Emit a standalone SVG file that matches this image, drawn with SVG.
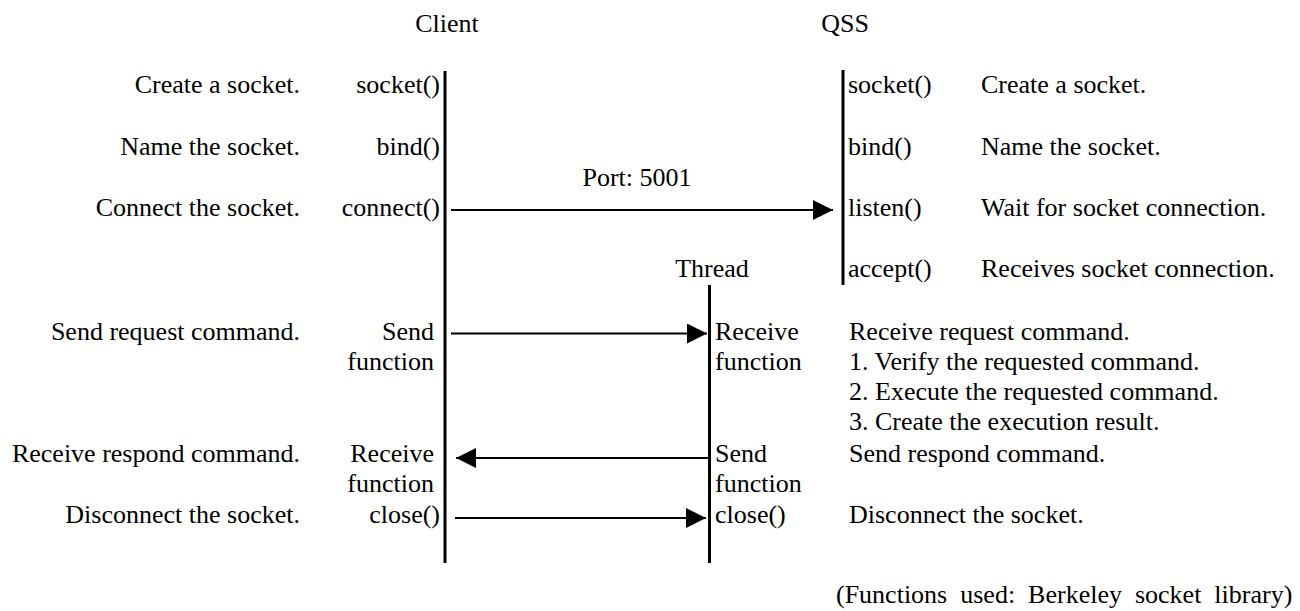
<svg xmlns="http://www.w3.org/2000/svg" width="1300" height="611" viewBox="0 0 1300 611">
<style>
text { font-family: Liberation Serif, Tinos, Times New Roman, Times, DejaVu Serif, serif; font-size: 26px; fill: #000; }
.s { text-anchor: start; }
.e { text-anchor: end; }
.m { text-anchor: middle; }
.life { stroke: #000; stroke-width: 3; fill: none; }
.msg { stroke: #000; stroke-width: 2; fill: none; marker-end: url(#ah); }
</style>
<defs>
<marker id="ah" markerUnits="userSpaceOnUse" markerWidth="20" markerHeight="20" refX="20" refY="10" orient="auto">
<path d="M0,0 L20,10 L0,20 z" fill="#000"/>
</marker>
</defs>
<rect width="1300" height="611" fill="#fff"/>

<g id="client">
<text class="m" x="447" y="32">Client</text>
<line class="life" x1="445" y1="71" x2="445" y2="563"/>
<text class="e" x="440" y="93">socket()</text>
<text class="e" x="440" y="155">bind()</text>
<text class="e" x="440" y="216">connect()</text>
<text class="e" x="434" y="340">Send</text>
<text class="e" x="434" y="370">function</text>
<text class="e" x="434" y="462">Receive</text>
<text class="e" x="434" y="492">function</text>
<text class="e" x="440" y="523">close()</text>
</g>

<g id="client-notes">
<text class="e" x="300" y="93">Create a socket.</text>
<text class="e" x="300" y="155">Name the socket.</text>
<text class="e" x="300" y="216">Connect the socket.</text>
<text class="e" x="300" y="340">Send request command.</text>
<text class="e" x="300" y="462">Receive respond command.</text>
<text class="e" x="300" y="523">Disconnect the socket.</text>
</g>

<g id="qss">
<text class="m" x="845" y="32">QSS</text>
<line class="life" x1="843" y1="70" x2="843" y2="285"/>
<text class="s" x="848" y="93">socket()</text>
<text class="s" x="848" y="155">bind()</text>
<text class="s" x="848" y="216">listen()</text>
<text class="s" x="848" y="277">accept()</text>
</g>

<g id="qss-notes">
<text class="s" x="981" y="93">Create a socket.</text>
<text class="s" x="981" y="155">Name the socket.</text>
<text class="s" x="981" y="216">Wait for socket connection.</text>
<text class="s" x="981" y="277">Receives socket connection.</text>
</g>

<g id="thread">
<text class="m" x="712" y="277">Thread</text>
<line class="life" x1="709.5" y1="285" x2="709.5" y2="563"/>
<text class="s" x="715" y="340">Receive</text>
<text class="s" x="715" y="370">function</text>
<text class="s" x="715" y="462">Send</text>
<text class="s" x="715" y="492">function</text>
<text class="s" x="715" y="523">close()</text>
</g>

<g id="thread-notes">
<text class="s" x="849" y="340">Receive request command.</text>
<text class="s" x="849" y="370">1. Verify the requested command.</text>
<text class="s" x="849" y="400">2. Execute the requested command.</text>
<text class="s" x="849" y="430">3. Create the execution result.</text>
<text class="s" x="849" y="462">Send respond command.</text>
<text class="s" x="849" y="523">Disconnect the socket.</text>
</g>

<g id="connectors">
<line class="msg" x1="451" y1="210" x2="833" y2="210"/>
<text class="m" x="637" y="186">Port: 5001</text>
<line class="msg" x1="451" y1="333.5" x2="707" y2="333.5"/>
<line class="msg" x1="708" y1="458" x2="456" y2="458"/>
<line class="msg" x1="455" y1="518" x2="706" y2="518"/>
</g>

<g id="footnote">
<text class="s" x="836" y="603" style="word-spacing:6.5px">(Functions used: Berkeley socket library)</text>
</g>
</svg>
